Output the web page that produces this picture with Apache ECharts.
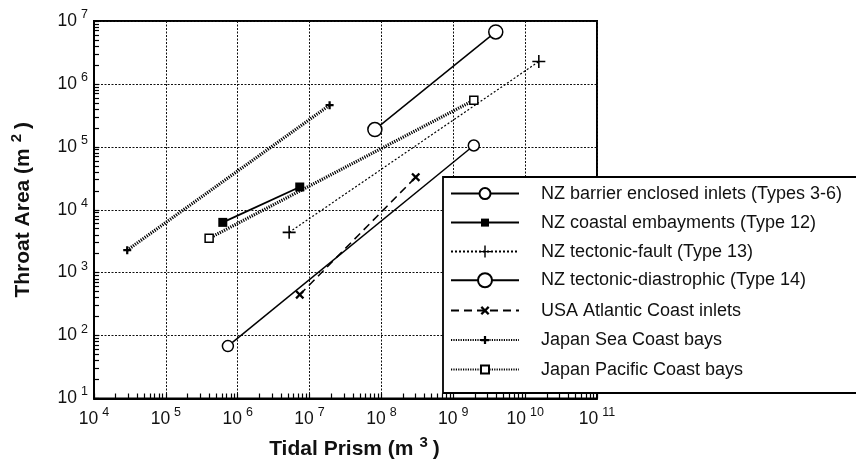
<!DOCTYPE html>
<html>
<head>
<meta charset="utf-8">
<script src="https://cdn.jsdelivr.net/npm/echarts@6/dist/echarts.min.js"></script>
<style>html,body{margin:0;padding:0;background:#fff;}#c{width:856px;height:465px;}</style>
</head>
<body>
<div id="c"></div>
<script>
// ---- data ----
const seriesNames = [
  'NZ barrier enclosed inlets (Types 3-6)',
  'NZ coastal embayments (Type 12)',
  'NZ tectonic-fault (Type 13)',
  'NZ tectonic-diastrophic (Type 14)',
  'USA Atlantic Coast inlets',
  'Japan Sea Coast bays',
  'Japan Pacific Coast bays'
];
const barrierX = [7.3e5, 1.93e9];   const barrierY = [68, 1.05e5];
const embayX   = [6.2e5, 7.3e6];    const embayY   = [6300, 2.3e4];
const faultX   = [5.2e6, 1.55e10];  const faultY   = [4370, 2.27e6];
const diastX   = [8.1e7, 3.9e9];    const diastY   = [1.88e5, 6.7e6];
const usaX     = [7.3e6, 3.0e8];    const usaY     = [447, 3.3e4];
const jseaX    = [2.9e4, 1.9e7];    const jseaY    = [2280, 4.6e5];
const jpacX    = [4.0e5, 1.93e9];   const jpacY    = [3520, 5.5e5];

const xTickExponents = [4, 5, 6, 7, 8, 9, 10, 11];
const yTickExponents = [1, 2, 3, 4, 5, 6, 7];

// ---- helpers ----
const FONT = '"Liberation Sans", Arial, Helvetica, sans-serif';
function pairs(xs, ys) { return xs.map((x, i) => [x, ys[i]]); }
function minorLogs(exps) {
  const out = [];
  for (let i = 0; i < exps.length - 1; i++) {
    for (let k = 1; k <= 9; k++) out.push(exps[i] + Math.log10(k));
  }
  out.push(exps[exps.length - 1]);
  return out;
}
const expLabel = v => '{b|10}{e|' + Math.round(Math.log10(v)) + '}';
const tickRich = {
  b: { fontSize: 17.5, fontFamily: FONT, color: '#111', lineHeight: 26 },
  e: { fontSize: 12.5, fontFamily: FONT, color: '#111', verticalAlign: 'top', padding: [0, 0, 0, 4] }
};
const nameRich = {
  t: { fontSize: 21, fontWeight: 'bold', fontFamily: FONT, color: '#111', lineHeight: 28 },
  s: { fontSize: 15, fontWeight: 'bold', fontFamily: FONT, color: '#111', verticalAlign: 'top', padding: [0, 5, 0, 6] }
};

const PLUS_THIN = 'path://M4.4,0H5.6V4.4H10V5.6H5.6V10H4.4V5.6H0V4.4H4.4Z';
const PLUS_BOLD = 'path://M3.6,0H6.4V3.6H10V6.4H6.4V10H3.6V6.4H0V3.6H3.6Z';
const XMARK = 'path://M0,1.8L1.8,0L5,3.2L8.2,0L10,1.8L6.8,5L10,8.2L8.2,10L5,6.8L1.8,10L0,8.2L3.2,5Z';

function mk(name, xs, ys, symbol, size, lineStyle, itemStyle) {
  return {
    name, type: 'line', data: pairs(xs, ys),
    symbol, symbolSize: size, showSymbol: true,
    lineStyle: Object.assign({ color: '#000' }, lineStyle),
    itemStyle, animation: false, z: 2
  };
}
const openStyle = { color: '#fff', borderColor: '#000', borderWidth: 1.5 };
const blackStyle = { color: '#000', borderWidth: 0 };

const symbolSizes = [11, 9, 13, 14, 9, 8, 8];
const series = [
  mk(seriesNames[0], barrierX, barrierY, 'circle', symbolSizes[0], { width: 1.5, type: 'solid' }, openStyle),
  mk(seriesNames[1], embayX, embayY, 'rect', symbolSizes[1], { width: 1.8, type: 'solid' }, blackStyle),
  mk(seriesNames[2], faultX, faultY, PLUS_THIN, symbolSizes[2], { width: 1.2, type: [2, 2] }, blackStyle),
  mk(seriesNames[3], diastX, diastY, 'circle', symbolSizes[3], { width: 1.5, type: 'solid' }, openStyle),
  mk(seriesNames[4], usaX, usaY, XMARK, symbolSizes[4], { width: 1.5, type: [8, 5] }, blackStyle),
  mk(seriesNames[5], jseaX, jseaY, PLUS_BOLD, symbolSizes[5], { width: 3.2, type: [1.2, 1.2] }, blackStyle),
  mk(seriesNames[6], jpacX, jpacY, 'rect', symbolSizes[6], { width: 3.2, type: [1.2, 1.2] }, openStyle)
];

// one legend per row so each legend symbol keeps its own size
const legendRowCenters = [193, 222, 251, 280, 310, 339.5, 369];
const legendSymbolSizes = [11, 8, 12, 14, 9, 8, 8];
const legends = seriesNames.map((n, i) => {
  const ih = legendSymbolSizes[i] / 0.8;
  return {
    orient: 'vertical', left: 445, top: legendRowCenters[i] - 5 - Math.max(ih / 2, 8.4),
    itemWidth: 68, itemHeight: ih,
    data: [n],
    textStyle: { fontSize: 18, fontFamily: FONT, color: '#111', lineHeight: 8, padding: [0, 0, 0, 17] },
    selectedMode: false, z: 10
  };
});

const chart = echarts.init(document.getElementById('c'), null, { renderer: 'canvas' });
chart.setOption({
  backgroundColor: '#fff',
  animation: false,
  grid: { left: 94, right: 259, top: 21, bottom: 62, show: true, borderColor: '#000', borderWidth: 2 },
  xAxis: [
    {
      type: 'log', logBase: 10,
      min: Math.pow(10, xTickExponents[0]), max: Math.pow(10, xTickExponents[xTickExponents.length - 1]),
      splitNumber: xTickExponents.length - 1,
      position: 'bottom',
      axisLine: { show: true, lineStyle: { color: '#000', width: 2 } },
      axisTick: { show: false },
      axisLabel: { formatter: expLabel, rich: tickRich, margin: 8 },
      splitLine: { show: true, lineStyle: { color: '#111', width: 1, type: [2, 1.5] } },
      name: '{t|Tidal Prism (m}{s|3}{t|)}', nameLocation: 'middle', nameGap: 37,
      nameTextStyle: { rich: nameRich, padding: [0, 0, 0, 18] }
    },
    {
      type: 'value', min: xTickExponents[0], max: xTickExponents[xTickExponents.length - 1],
      position: 'bottom', gridIndex: 0,
      axisLine: { show: false },
      axisTick: { show: true, inside: true, length: 5, lineStyle: { color: '#000', width: 1.2 }, customValues: minorLogs(xTickExponents) },
      axisLabel: { show: false },
      splitLine: { show: false }
    }
  ],
  yAxis: [
    {
      type: 'log', logBase: 10,
      min: Math.pow(10, yTickExponents[0]), max: Math.pow(10, yTickExponents[yTickExponents.length - 1]),
      splitNumber: yTickExponents.length - 1,
      position: 'left',
      axisLine: { show: true, lineStyle: { color: '#000', width: 2 } },
      axisTick: { show: false },
      axisLabel: { formatter: expLabel, rich: tickRich, margin: 6 },
      splitLine: { show: true, lineStyle: { color: '#111', width: 1, type: [2, 1.5] } },
      name: '{t|Throat Area (m}{s|2}{t|)}', nameLocation: 'middle', nameGap: 57,
      nameTextStyle: { rich: nameRich }
    },
    {
      type: 'value', min: yTickExponents[0], max: yTickExponents[yTickExponents.length - 1],
      position: 'left', gridIndex: 0,
      axisLine: { show: false },
      axisTick: { show: true, inside: true, length: 5, lineStyle: { color: '#000', width: 1.2 }, customValues: minorLogs(yTickExponents) },
      axisLabel: { show: false },
      splitLine: { show: false }
    }
  ],
  legend: legends,
  graphic: [
    { type: 'rect', z: 5, shape: { x: 443, y: 177, width: 430, height: 216 },
      style: { fill: '#fff', stroke: '#000', lineWidth: 1.8 } }
  ],
  series
});
</script>
</body>
</html>
